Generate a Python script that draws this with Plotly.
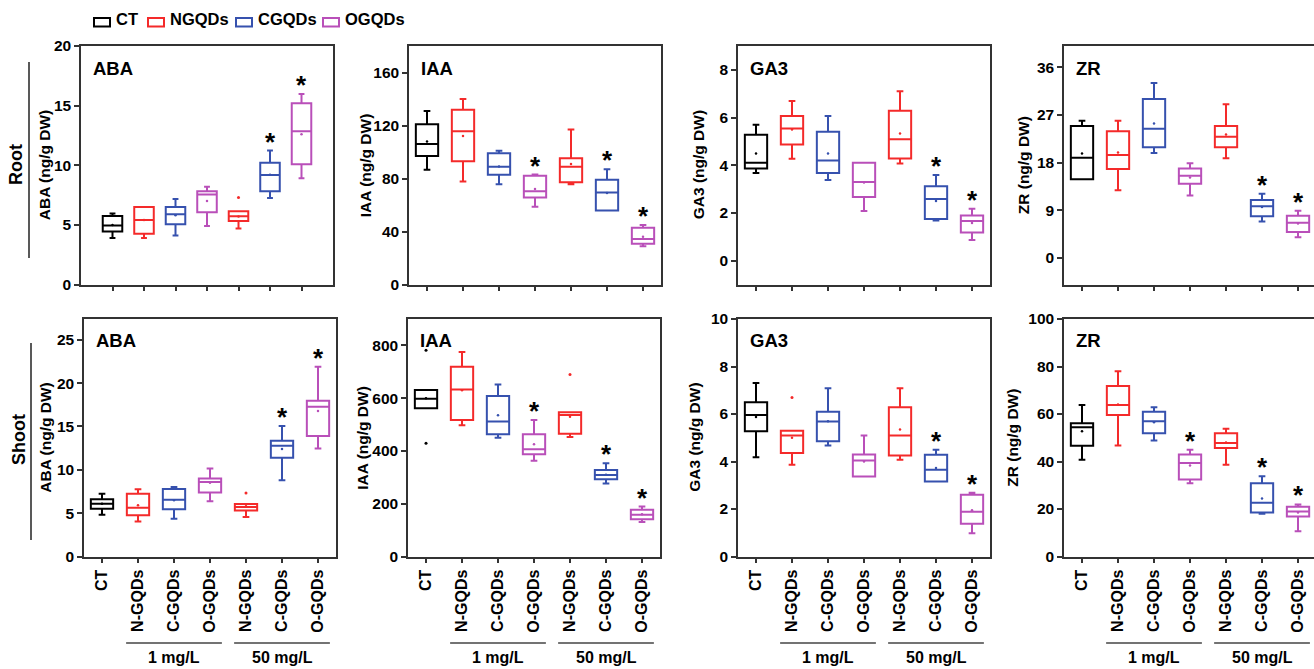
import plotly.graph_objects as go

W, H = 1314, 669
FONT = "Liberation Sans"

# ---------------- data ----------------
categories = ["CT", "N-GQDs", "C-GQDs", "O-GQDs", "N-GQDs", "C-GQDs", "O-GQDs"]
treat_of_cat = [0, 1, 2, 3, 1, 2, 3]
legend_names = ["CT", "NGQDs", "CGQDs", "OGQDs"]
colors = ["#000000", "#F42A2A", "#3651AE", "#B94FB9"]
concentrations = ["1 mg/L", "50 mg/L"]
conc_groups = [[1, 2, 3], [4, 5, 6]]
tissues = ["Root", "Shoot"]
hormones = ["ABA", "IAA", "GA3", "ZR"]

# Root ABA
root_aba_low = [3.9, 3.9, 4.1, 4.9, 4.7, 7.25, 8.9]
root_aba_q1 = [4.45, 4.25, 5.05, 6.05, 5.33, 7.83, 10.08]
root_aba_med = [4.95, 5.4, 5.9, 7.55, 5.73, 9.18, 12.86]
root_aba_q3 = [5.75, 6.5, 6.5, 7.83, 6.15, 10.22, 15.19]
root_aba_up = [5.95, 6.5, 7.16, 8.2, 6.15, 11.23, 15.98]
root_aba_mean = [5.0, 5.4, 5.8, 7.0, 5.7, 9.2, 12.6]
root_aba_stars = [5, 6]
root_aba_out = [(4, 7.3)]

# Root IAA
root_iaa_low = [86.6, 77.8, 75.7, 58.6, 75.7, 55.8, 28.8]
root_iaa_q1 = [96.9, 93.1, 82.8, 65.6, 77.2, 55.8, 30.8]
root_iaa_med = [106, 115.6, 88.8, 70.4, 88.8, 69.4, 34.3]
root_iaa_q3 = [120.9, 131.8, 99, 82, 95.2, 79, 42.9]
root_iaa_up = [131, 140, 101, 83, 117, 87, 44.9]
root_iaa_mean = [108, 112, 89, 72, 91, 69, 36]
root_iaa_stars = [3, 5, 6]
root_iaa_out = []

# Root GA3
root_ga3_low = [3.68, 4.27, 3.38, 2.08, 4.07, 1.68, 0.87]
root_ga3_q1 = [3.86, 4.87, 3.68, 2.67, 4.28, 1.75, 1.18]
root_ga3_med = [4.11, 5.54, 4.20, 3.30, 5.09, 2.58, 1.66]
root_ga3_q3 = [5.28, 6.06, 5.40, 4.10, 6.29, 3.12, 1.89]
root_ga3_up = [5.70, 6.69, 6.06, 4.10, 7.10, 3.59, 2.18]
root_ga3_mean = [4.49, 5.5, 4.49, 3.28, 5.33, 2.5, 1.58]
root_ga3_stars = [5, 6]
root_ga3_out = []

# Root ZR
root_zr_low = [14.85, 12.8, 19.8, 11.8, 18.8, 6.9, 3.9]
root_zr_q1 = [14.85, 16.8, 20.9, 14.0, 20.9, 7.86, 4.9]
root_zr_med = [18.9, 19.45, 24.4, 15.5, 22.9, 9.75, 6.67]
root_zr_q3 = [24.9, 23.9, 30.0, 16.9, 24.9, 10.95, 7.99]
root_zr_up = [25.9, 25.9, 33.0, 17.9, 29.0, 12.1, 8.93]
root_zr_mean = [19.7, 19.9, 25.4, 15.2, 23.3, 9.6, 6.5]
root_zr_stars = [5, 6]
root_zr_out = []

# Shoot ABA
shoot_aba_low = [4.82, 4.05, 4.36, 6.36, 4.55, 8.8, 12.46]
shoot_aba_q1 = [5.52, 4.75, 5.44, 7.37, 5.32, 11.38, 13.9]
shoot_aba_med = [6.1, 5.63, 6.56, 8.6, 5.71, 12.77, 17.28]
shoot_aba_q3 = [6.6, 7.25, 7.79, 8.99, 6.06, 13.35, 17.97]
shoot_aba_up = [7.25, 7.75, 8.02, 10.15, 6.06, 15.05, 21.9]
shoot_aba_mean = [6.1, 5.9, 6.5, 8.5, 5.8, 12.4, 16.8]
shoot_aba_stars = [5, 6]
shoot_aba_out = [(4, 7.33)]

# Shoot IAA
shoot_iaa_low = [562, 497, 450, 363, 453, 277, 131]
shoot_iaa_q1 = [562, 517, 463, 387, 465, 293, 141]
shoot_iaa_med = [598, 633, 512, 406, 536, 309, 158]
shoot_iaa_q3 = [631, 719, 608, 463, 547, 328, 177]
shoot_iaa_up = [631, 775, 652, 517, 547, 353, 189]
shoot_iaa_mean = [600, 630, 535, 425, 530, 310, 160]
shoot_iaa_stars = [3, 5, 6]
shoot_iaa_out = [(0, 782), (0, 429), (4, 690)]

# Shoot GA3
shoot_ga3_low = [4.18, 3.86, 4.67, 3.37, 4.07, 3.16, 0.98]
shoot_ga3_q1 = [5.27, 4.36, 4.85, 3.37, 4.25, 3.16, 1.38]
shoot_ga3_med = [5.96, 5.09, 5.68, 4.04, 5.09, 3.65, 1.88]
shoot_ga3_q3 = [6.49, 5.30, 6.09, 4.29, 6.28, 4.28, 2.60]
shoot_ga3_up = [7.31, 5.30, 7.08, 5.09, 7.08, 4.49, 2.68]
shoot_ga3_mean = [5.87, 5.0, 5.7, 4.0, 5.35, 3.73, 1.95]
shoot_ga3_stars = [5, 6]
shoot_ga3_out = [(1, 6.70)]

# Shoot ZR
shoot_zr_low = [40.7, 46.7, 48.8, 30.8, 38.6, 18.0, 10.6]
shoot_zr_q1 = [46.6, 59.6, 51.9, 32.4, 45.7, 18.5, 16.8]
shoot_zr_med = [54.4, 63.8, 56.9, 39.4, 47.8, 22.6, 18.9]
shoot_zr_q3 = [56.1, 71.8, 60.9, 42.9, 51.9, 30.8, 20.9]
shoot_zr_up = [63.8, 78, 62.8, 44.9, 53.8, 33.8, 21.9]
shoot_zr_mean = [52.7, 64, 56.5, 38.3, 48, 24.4, 18.5]
shoot_zr_stars = [3, 5, 6]
shoot_zr_out = []

# y axis ticks per panel
y_ticks = [
    [0, 5, 10, 15, 20], [0, 40, 80, 120, 160], [0, 2, 4, 6, 8], [0, 9, 18, 27, 36],
    [0, 5, 10, 15, 20, 25], [0, 200, 400, 600, 800], [0, 2, 4, 6, 8, 10], [0, 20, 40, 60, 80, 100],
]

panels = [
    (root_aba_low, root_aba_q1, root_aba_med, root_aba_q3, root_aba_up, root_aba_mean, root_aba_stars, root_aba_out),
    (root_iaa_low, root_iaa_q1, root_iaa_med, root_iaa_q3, root_iaa_up, root_iaa_mean, root_iaa_stars, root_iaa_out),
    (root_ga3_low, root_ga3_q1, root_ga3_med, root_ga3_q3, root_ga3_up, root_ga3_mean, root_ga3_stars, root_ga3_out),
    (root_zr_low, root_zr_q1, root_zr_med, root_zr_q3, root_zr_up, root_zr_mean, root_zr_stars, root_zr_out),
    (shoot_aba_low, shoot_aba_q1, shoot_aba_med, shoot_aba_q3, shoot_aba_up, shoot_aba_mean, shoot_aba_stars, shoot_aba_out),
    (shoot_iaa_low, shoot_iaa_q1, shoot_iaa_med, shoot_iaa_q3, shoot_iaa_up, shoot_iaa_mean, shoot_iaa_stars, shoot_iaa_out),
    (shoot_ga3_low, shoot_ga3_q1, shoot_ga3_med, shoot_ga3_q3, shoot_ga3_up, shoot_ga3_mean, shoot_ga3_stars, shoot_ga3_out),
    (shoot_zr_low, shoot_zr_q1, shoot_zr_med, shoot_zr_q3, shoot_zr_up, shoot_zr_mean, shoot_zr_stars, shoot_zr_out),
]

# ---------------- layout geometry (pixels) ----------------
xdom_px = [(81, 333), (409, 661), (738, 990), (1064, 1314),
           (84, 336), (408, 660), (738, 990), (1064, 1314)]
ydom_px = [(46, 284.5)] * 4 + [(319, 556.5)] * 4
x_ranges = [[-1, 7], [-0.5, 6.5], [-0.5, 6.5], [-0.5, 6.444],
            [-0.5, 6.5], [-0.5, 6.5], [-0.5, 6.5], [-0.5, 6.444]]
y_ranges = [[0, 20], [0, 180], [-1, 9], [-5, 40],
            [0, 27.4], [0, 900], [0, 10], [0, 100]]
ytitle_off = [37, 44, 40, 41, 38, 45, 43, 51]


def px(x):
    return x / W


def py(y):
    return 1 - y / H


fig = go.Figure()
annotations = []
shapes = []
AX = "#333333"

for p, (low, q1, med, q3, up, mean, stars, outs) in enumerate(panels):
    xa = "x" if p == 0 else f"x{p + 1}"
    ya = "y" if p == 0 else f"y{p + 1}"
    for i in range(len(categories)):
        c = colors[treat_of_cat[i]]
        fig.add_trace(go.Box(
            x=[i], q1=[q1[i]], median=[med[i]], q3=[q3[i]],
            lowerfence=[low[i]], upperfence=[up[i]],
            xaxis=xa, yaxis=ya, width=0.62, whiskerwidth=0.3,
            line=dict(color=c, width=2), fillcolor="rgba(255,255,255,0)",
            showlegend=False, boxpoints=False, hoverinfo="skip",
        ))
    fig.add_trace(go.Scatter(
        x=list(range(len(categories))), y=mean, mode="markers",
        marker=dict(size=2.5, color=[colors[t] for t in treat_of_cat]),
        xaxis=xa, yaxis=ya, showlegend=False, hoverinfo="skip"))
    if outs:
        fig.add_trace(go.Scatter(
            x=[o[0] for o in outs], y=[o[1] for o in outs], mode="markers",
            marker=dict(size=3, color=[colors[treat_of_cat[o[0]]] for o in outs]),
            xaxis=xa, yaxis=ya, showlegend=False, hoverinfo="skip"))
    for s in stars:
        annotations.append(dict(
            x=s, y=up[s], xref=xa, yref=ya, text="*", showarrow=False,
            yanchor="bottom", yshift=-8,
            font=dict(family=FONT, size=26, color="black", weight="bold")))

    bottom = p >= 4
    ax_common = dict(showline=True, linecolor=AX, linewidth=1.5, ticks="outside",
                     ticklen=5, tickwidth=1.5, tickcolor=AX, showgrid=False,
                     zeroline=False, automargin=False)
    xd = xdom_px[p]
    yd = ydom_px[p]
    fig.layout[("xaxis" if p == 0 else f"xaxis{p + 1}")] = dict(
        domain=[px(xd[0]), min(1.0, px(xd[1]))], anchor=ya, range=x_ranges[p],
        tickvals=list(range(len(categories))), ticktext=categories,
        showticklabels=bottom, tickangle=-90, mirror=True,
        tickfont=dict(family=FONT, size=16, color="black", weight="bold"),
        **ax_common)
    fig.layout[("yaxis" if p == 0 else f"yaxis{p + 1}")] = dict(
        domain=[py(yd[1]), py(yd[0])], anchor=xa, range=y_ranges[p],
        tickvals=y_ticks[p], mirror=(p % 4 != 3),
        tickfont=dict(family=FONT, size=15.5, color="black", weight="bold"),
        **ax_common)
    # y title
    annotations.append(dict(
        x=px(xd[0] - ytitle_off[p]), y=py((yd[0] + yd[1]) / 2), xref="paper", yref="paper",
        text=f"{hormones[p % 4]} (ng/g DW)", textangle=-90, showarrow=False,
        xanchor="center", yanchor="middle",
        font=dict(family=FONT, size=15.5, color="black", weight="bold")))
    # panel label
    annotations.append(dict(
        x=px(xd[0] + 10), y=py(yd[0] + 22), xref="paper", yref="paper",
        text=hormones[p % 4], showarrow=False, xanchor="left", yanchor="middle",
        font=dict(family=FONT, size=18.5, color="black", weight="bold")))
    if bottom:
        for g, grp in enumerate(conc_groups):
            shapes.append(dict(type="line", xref=xa, yref="paper",
                               x0=grp[0] - 0.33, x1=grp[-1] + 0.33,
                               y0=py(643), y1=py(643),
                               line=dict(color="#444444", width=1.5)))
            annotations.append(dict(
                x=(grp[0] + grp[-1]) / 2, y=py(657), xref=xa, yref="paper",
                text=concentrations[g], showarrow=False, xanchor="center", yanchor="middle",
                font=dict(family=FONT, size=16, color="black", weight="bold")))

# row labels
row_label_pos = [(16, 165, 29, 62, 258), (19, 440, 31, 343, 540)]
for r, (tx, ty, lx, ly0, ly1) in enumerate(row_label_pos):
    annotations.append(dict(
        x=px(tx), y=py(ty), xref="paper", yref="paper", text=tissues[r],
        textangle=-90, showarrow=False, xanchor="center", yanchor="middle",
        font=dict(family=FONT, size=18, color="black", weight="bold")))
    shapes.append(dict(type="line", xref="paper", yref="paper",
                       x0=px(lx), x1=px(lx), y0=py(ly0), y1=py(ly1),
                       line=dict(color="#222222", width=1.5)))

# legend (custom)
legend_icon_x = [94, 148, 236, 323]
for k, name in enumerate(legend_names):
    x0 = legend_icon_x[k]
    shapes.append(dict(type="rect", xref="paper", yref="paper",
                       x0=px(x0), x1=px(x0 + 16), y0=py(26.5), y1=py(18),
                       line=dict(color=colors[k], width=2), fillcolor="rgba(0,0,0,0)"))
    annotations.append(dict(
        x=px(x0 + 20), y=py(19.5), xref="paper", yref="paper", text=name,
        showarrow=False, xanchor="left", yanchor="middle",
        font=dict(family=FONT, size=16.5, color="black", weight="bold")))

fig.update_layout(
    width=W, height=H,
    margin=dict(l=0, r=0, t=0, b=0, pad=0, autoexpand=False),
    paper_bgcolor="white", plot_bgcolor="white",
    boxmode="overlay", showlegend=False,
    annotations=annotations, shapes=shapes,
    font=dict(family=FONT, color="black"),
)

fig.write_html(
    "out.html",
    config={"displayModeBar": False},
    post_script=(
        "document.documentElement.style.margin='0';"
        "document.documentElement.style.overflow='hidden';"
        "document.body.style.margin='0';document.body.style.padding='0';"
        "var gd=document.getElementById('{plot_id}');"
        "gd.style.position='fixed';gd.style.top='0px';gd.style.left='0px';"
    ),
)
